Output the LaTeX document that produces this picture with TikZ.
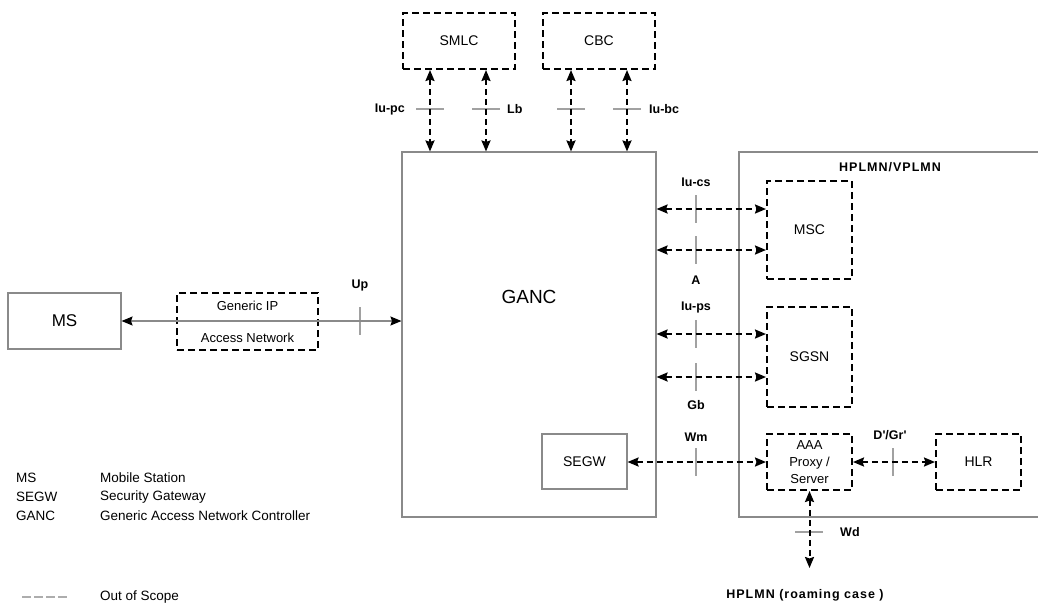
\documentclass[tikz,border=0pt]{standalone}
\usepackage{fontspec}
\setmainfont{Liberation Sans}
\newfontfamily\spaced[LetterSpace=8]{Liberation Sans}
\usetikzlibrary{arrows.meta}
\definecolor{lgray}{HTML}{8A8A8A}
\tikzset{
  solidbox/.style={draw=lgray, line width=1.1pt, inner sep=0pt},
  dashbox/.style={draw=black, line width=2pt, dash pattern=on 7pt off 4pt, inner sep=0pt},
  darr/.style={draw=black, line width=2pt, dash pattern=on 6pt off 4pt, {Stealth[length=11pt,width=9pt,inset=1.5pt]}-{Stealth[length=11pt,width=9pt,inset=1.5pt]}},
  tickl/.style={draw=lgray!80, line width=1.1pt},
  lbl/.style={font=\bfseries\fontsize{12.5}{14}\selectfont, inner sep=0pt},
  btxt/.style={font=\fontsize{14}{16}\selectfont},
  legt/.style={font=\fontsize{13.5}{15}\selectfont, anchor=west, inner sep=0pt}
}
\begin{document}
\begin{tikzpicture}[x=1pt,y=-1pt]
\useasboundingbox (0,0) rectangle (1038,603);
% region
\draw[draw=lgray, line width=1.1pt] (1040,152) -- (739,152) -- (739,517) -- (1040,517);
\node[font=\spaced\bfseries\fontsize{12.5}{14}\selectfont] (hpl) at (890,167) {HPLMN/VPLMN};
% ticks (behind connectors)
\draw[tickl] (360,307) -- (360,335);
\foreach \x in {430,486,571,627} \draw[tickl] (\x-14,109) -- (\x+14,109);
\foreach \y in {209,250,334,377} \draw[tickl] (696,\y-14) -- (696,\y+14);
\draw[tickl] (696,448) -- (696,476);
\draw[tickl] (893,448) -- (893,476);
\draw[tickl] (795,532) -- (823,532);
% boxes
\node[dashbox, minimum width=112pt, minimum height=56pt, btxt] (smlc) at (459,41) {SMLC};
\node[dashbox, minimum width=112pt, minimum height=56pt, btxt] (cbc) at (599,41) {CBC};
\node[solidbox, minimum width=254pt, minimum height=365pt] (ganc) at (529,334.5) {};
\node[font=\fontsize{19}{21}\selectfont] (gancl) at (529,297) {GANC};
\node[dashbox, minimum width=85pt, minimum height=98pt, btxt] (msc) at (809.5,230) {MSC};
\node[dashbox, minimum width=85pt, minimum height=100pt, btxt] (sgsn) at (809.5,357) {SGSN};
\node[dashbox, minimum width=85pt, minimum height=56pt, align=center, font=\fontsize{13}{17}\selectfont] (aaa) at (809.5,462) {AAA\\Proxy /\\Server};
\node[dashbox, minimum width=85pt, minimum height=56pt, btxt] (hlr) at (978.5,462) {HLR};
\node[solidbox, minimum width=85pt, minimum height=55pt, btxt] (segw) at (584.5,461.5) {SEGW};
\node[solidbox, minimum width=113pt, minimum height=56pt, font=\fontsize{17}{19}\selectfont] (ms) at (64.5,321) {MS};
\node[dashbox, minimum width=141pt, minimum height=57pt] (gip) at (247.5,321.5) {};
\node[font=\fontsize{13}{15}\selectfont] (gipa) at (247.5,306) {Generic IP};
\node[font=\fontsize{13}{15}\selectfont] (gipb) at (247.5,338) {Access Network};
% MS - GANC
\draw[draw=lgray, line width=1.1pt, {Stealth[length=11pt,width=9pt,inset=1.5pt,black]}-{Stealth[length=11pt,width=9pt,inset=1.5pt,black]}] (ms.east) -- (ganc.west |- ms.east);
\node[lbl] (up) at (360,285) {Up};
% vertical arrows
\draw[darr] ([xshift=-29pt]smlc.south) -- ([xshift=-29pt]smlc.south |- ganc.north);
\draw[darr] ([xshift=27pt]smlc.south) -- ([xshift=27pt]smlc.south |- ganc.north);
\draw[darr] ([xshift=-28pt]cbc.south) -- ([xshift=-28pt]cbc.south |- ganc.north);
\draw[darr] ([xshift=28pt]cbc.south) -- ([xshift=28pt]cbc.south |- ganc.north);
\node[lbl, anchor=east] (iupc) at (405,109) {Iu-pc};
\node[lbl, anchor=west] (lb) at (507,109) {Lb};
\node[lbl, anchor=west] (iubc) at (649,109) {Iu-bc};
% horizontal arrows to MSC / SGSN
\draw[darr] (ganc.east |- 0,209) -- (msc.west |- 0,209);
\draw[darr] (ganc.east |- 0,250) -- (msc.west |- 0,250);
\draw[darr] (ganc.east |- 0,334) -- (sgsn.west |- 0,334);
\draw[darr] (ganc.east |- 0,377) -- (sgsn.west |- 0,377);
\node[lbl] (iucs) at (696,182) {Iu-cs};
\node[lbl] (a) at (696,280) {A};
\node[lbl] (iups) at (696,307) {Iu-ps};
\node[lbl] (gb) at (696,405) {Gb};
% Wm, D'/Gr', Wd
\draw[darr] (segw.east |- aaa.west) -- (aaa.west);
\node[lbl] (wm) at (696,437) {Wm};
\draw[darr] (aaa.east) -- (hlr.west);
\node[lbl] (dgr) at (890,435) {D\textquotesingle/Gr\textquotesingle};
\coordinate (wdend) at (809.5,568);
\draw[darr] (aaa.south) -- (wdend);
\node[lbl, anchor=west] (wd) at (840,532) {Wd};
\node[font=\spaced\bfseries\fontsize{12.5}{14}\selectfont] (roam) at (805,595) {HPLMN (roaming case )};
% legend
\node[legt] (l1a) at (16,478) {MS};
\node[legt] (l1b) at (100,478) {Mobile Station};
\node[legt] (l2a) at (16,497) {SEGW};
\node[legt] (l2b) at (100,497) {Security Gateway};
\node[legt] (l3a) at (16,516) {GANC};
\node[legt] (l3b) at (100,516) {Generic Access Network Controller};
\draw[draw=lgray!70, line width=2.5pt, dash pattern=on 9pt off 3pt] (22,597) -- (69,597);
\node[legt] (l4b) at (100,597) {Out of Scope};
\end{tikzpicture}
\end{document}
